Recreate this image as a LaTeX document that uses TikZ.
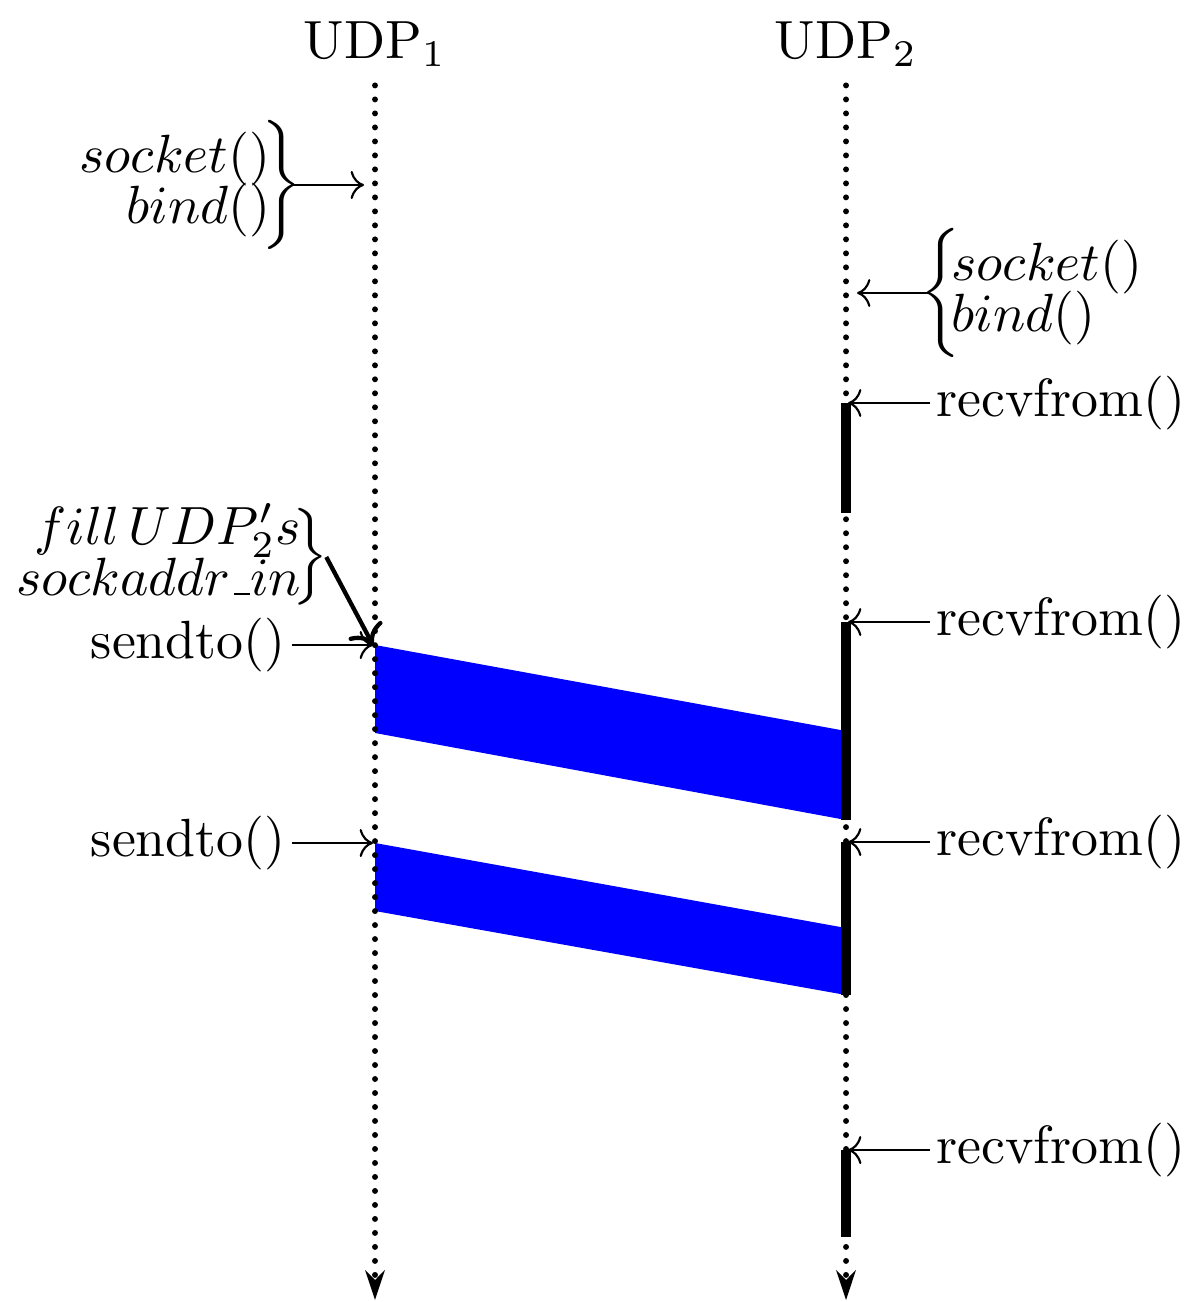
\documentclass[tikz,border=0pt]{standalone}
\usetikzlibrary{arrows.meta}
\newcommand\usc{\kern.06em\vbox{\hrule width.3em}}
\begin{document}
\begin{tikzpicture}[scale=0.653,
    lifeline/.style={line width=1.1pt, dash pattern=on 0pt off 2.6pt, line cap=round, -{Stealth[length=5.5pt,width=3.6pt]}},
    busy/.style={line width=2pt},
    msg/.style={fill=blue},
    call/.style={inner sep=1pt},
    grp/.style={inner sep=0pt}]

	\useasboundingbox (0,0) rectangle (11.91,-13.02);

	% messages
	\fill[msg] (3.75,-6.45) -- (8.46,-7.31) -- (8.46,-8.20) -- (3.75,-7.33) -- cycle;
	\fill[msg] (3.75,-8.43) -- (8.46,-9.28) -- (8.46,-9.95) -- (3.75,-9.11) -- cycle;

	% hosts and lifelines
	\node (udp1) at (3.75,-0.44) {UDP$_1$};
	\node (udp2) at (8.46,-0.44) {UDP$_2$};
	\coordinate (end1) at (3.75,-13.00);
	\coordinate (end2) at (8.46,-13.00);
	\draw[lifeline] (udp1.south) -- (end1);
	\draw[lifeline] (udp2.south) -- (end2);

	% blocking in recvfrom
	\draw[busy] (8.46,-4.03) -- (8.46,-5.13);
	\draw[busy] (8.46,-6.22) -- (8.46,-8.20);
	\draw[busy] (8.46,-8.42) -- (8.46,-9.95);
	\draw[busy] (8.46,-11.50) -- (8.46,-12.37);

	% socket setup
	\node[grp, anchor=east] (grp1) at (2.92,-1.85) {$\left.\begin{array}{@{}r@{}}socket()\\[-2.5pt]bind()\end{array}\!\right\}\kern-2pt$};
	\coordinate (b1) at (3.64,-1.85);
	\draw[->] (grp1.east) -- (b1);

	\node[grp, anchor=west] (grp2) at (9.30,-2.93) {$\kern-2pt\left\{\!\begin{array}{@{}l@{}}socket()\\[-2.5pt]bind()\end{array}\right.$};
	\coordinate (b2) at (8.57,-2.93);
	\draw[->] (grp2.west) -- (b2);

	% calls
	\foreach \n/\y in {1/4.03, 2/6.22, 3/8.42, 4/11.50} {
		\node[call, anchor=west] (rf\n) at (9.30,-\y) {recvfrom()};
		\coordinate (r\n) at (8.48,-\y);
		\draw[->] (rf\n.west) -- (r\n);
	}
	\foreach \n/\y in {1/6.45, 2/8.43} {
		\node[call, anchor=east] (st\n) at (2.92,-\y) {sendto()};
		\coordinate (s\n) at (3.73,-\y);
		\draw[->] (st\n.east) -- (s\n);
	}

	\node[grp, anchor=east] (addr) at (3.21,-5.57) {$\begin{array}{@{}r@{}}fill\,UDP'_2s\\[-2.5pt]sockaddr\usc in\end{array}\!\Big\}\kern-1.5pt$};
	\draw[->, thick] ([xshift=1.5pt]addr.east) -- (s1);
\end{tikzpicture}
\end{document}
